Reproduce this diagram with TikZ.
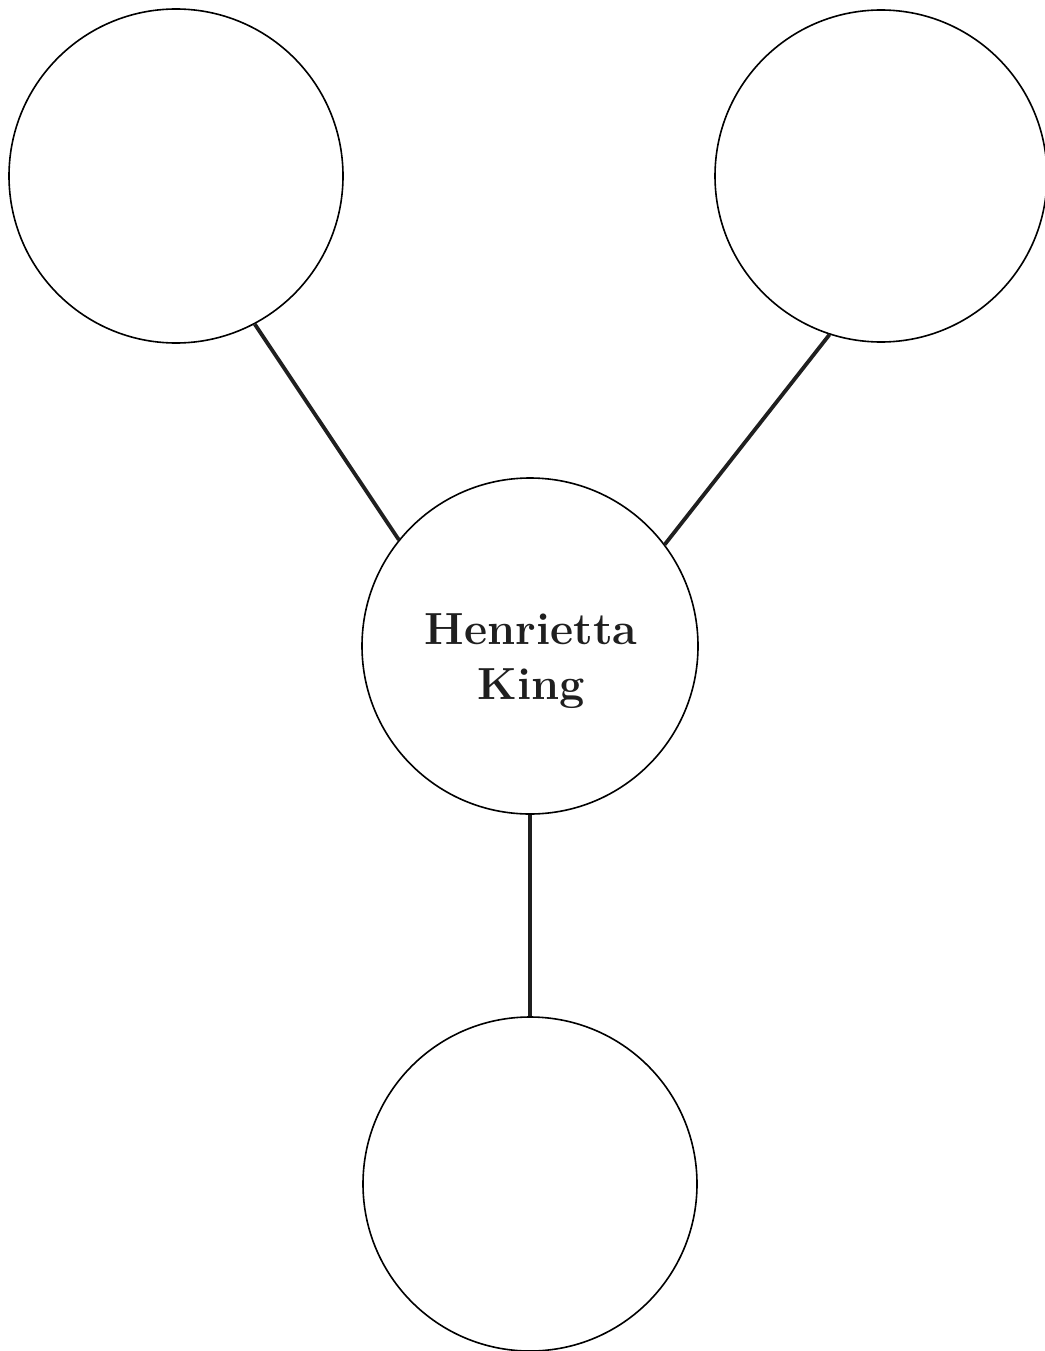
\documentclass[tikz,border=0pt]{standalone}
\begin{document}
\begin{tikzpicture}[x=1pt,y=-1pt,
  bubble/.style={circle,draw=black,line width=1.6pt,minimum size=334pt,inner sep=0pt},
  link/.style={line width=3.8pt,draw=black!88},
  title/.style={align=center,font={\fontsize{45}{55}\selectfont\bfseries},text=black!88,inner sep=0pt}]
\useasboundingbox (0,0) rectangle (1044,1351);
\node[bubble] (tl) at (176,176) {};
\node[bubble,minimum size=332pt] (tr) at (881,176) {};
\node[bubble,minimum size=336pt] (c) at (530,646) {};
\node[title] (name) at (531,661) {Henrietta\\King};
\node[bubble] (b) at (530,1184) {};
\draw[link] (tl.-62) -- (c.141);
\draw[link] (tr.-108) -- (c.37);
\draw[link] (c.south) -- (b.north);
\end{tikzpicture}
\end{document}
